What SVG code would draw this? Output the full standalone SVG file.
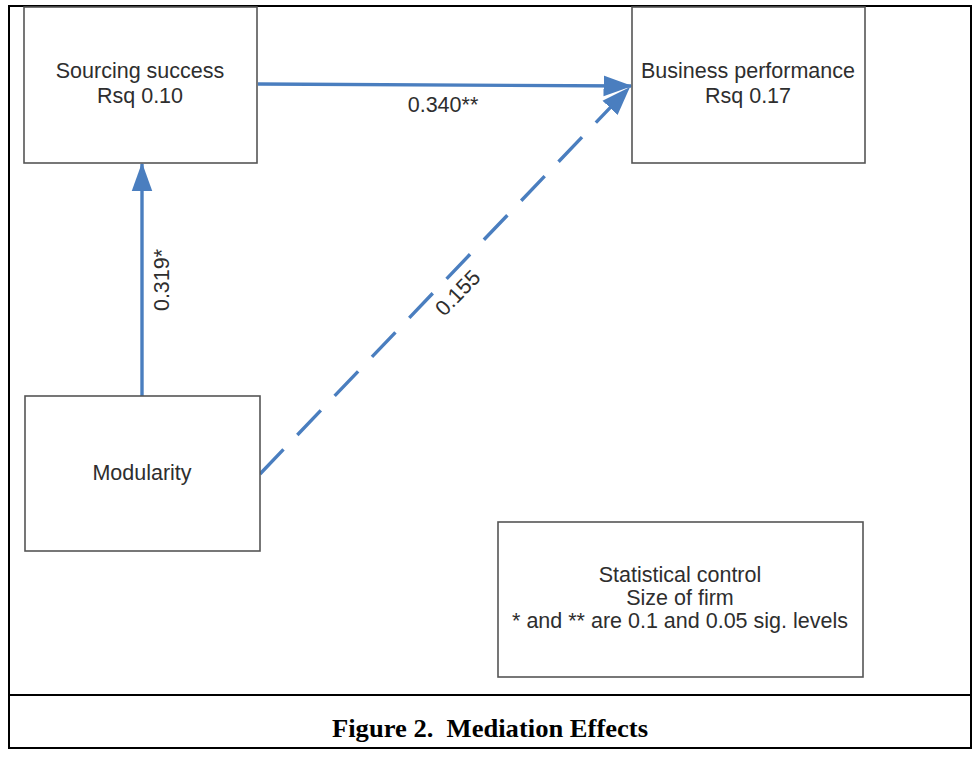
<svg xmlns="http://www.w3.org/2000/svg" width="973" height="763" viewBox="0 0 973 763">
<style>
.box{fill:#fff;stroke:#555;stroke-width:1.6}
.t{font-family:"Liberation Sans",Arial,sans-serif;font-size:21.5px;fill:#2e2e2e;text-anchor:middle}
.c{stroke:#4a7ebf;stroke-width:3.4;fill:none}
.cap{font-family:"Liberation Serif","Times New Roman",serif;font-size:25px;font-weight:bold;fill:#000;text-anchor:middle}
</style>
<defs>
<marker id="ah" viewBox="0 0 10 10" refX="9.5" refY="5" markerWidth="8.5" markerHeight="8.5" markerUnits="strokeWidth" orient="auto">
<path d="M0,1.4 L10,5 L0,8.6 z" fill="#4a7ebf"/>
</marker>
</defs>
<rect x="0" y="0" width="973" height="763" fill="#fff"/>
<g id="frame">
<rect x="9" y="6" width="962" height="742" fill="none" stroke="#000" stroke-width="2"/>
<line x1="9" y1="695" x2="971" y2="695" stroke="#000" stroke-width="2"/>
</g>
<g id="connectors">
<line class="c" x1="258" y1="84" x2="631" y2="86" marker-end="url(#ah)"/>
<line class="c" x1="142" y1="396" x2="142" y2="164" marker-end="url(#ah)"/>
<line class="c" x1="260" y1="474" x2="629" y2="88" stroke-dasharray="34 20" marker-end="url(#ah)"/>
<text class="t" x="443" y="112">0.340**</text>
<text class="t" transform="translate(169,280) rotate(-90)">0.319*</text>
<text class="t" transform="translate(463,298) rotate(-46)">0.155</text>
</g>
<g id="sourcing">
<rect class="box" x="24" y="7" width="233" height="156"/>
<text class="t" x="140" y="78">Sourcing success</text>
<text class="t" x="140" y="103">Rsq 0.10</text>
</g>
<g id="business">
<rect class="box" x="632" y="7" width="233" height="156"/>
<text class="t" x="748" y="78">Business performance</text>
<text class="t" x="748" y="103">Rsq 0.17</text>
</g>
<g id="modularity">
<rect class="box" x="25" y="396" width="235" height="155"/>
<text class="t" x="142" y="480">Modularity</text>
</g>
<g id="control">
<rect class="box" x="498" y="522" width="365" height="155"/>
<text class="t" x="680" y="582">Statistical control</text>
<text class="t" x="680" y="605">Size of firm</text>
<text class="t" x="680" y="628">* and ** are 0.1 and 0.05 sig. levels</text>
</g>
<g id="caption">
<text class="cap" x="490" y="737" textLength="316" lengthAdjust="spacingAndGlyphs">Figure 2.&#160; Mediation Effects</text>
</g>
</svg>
